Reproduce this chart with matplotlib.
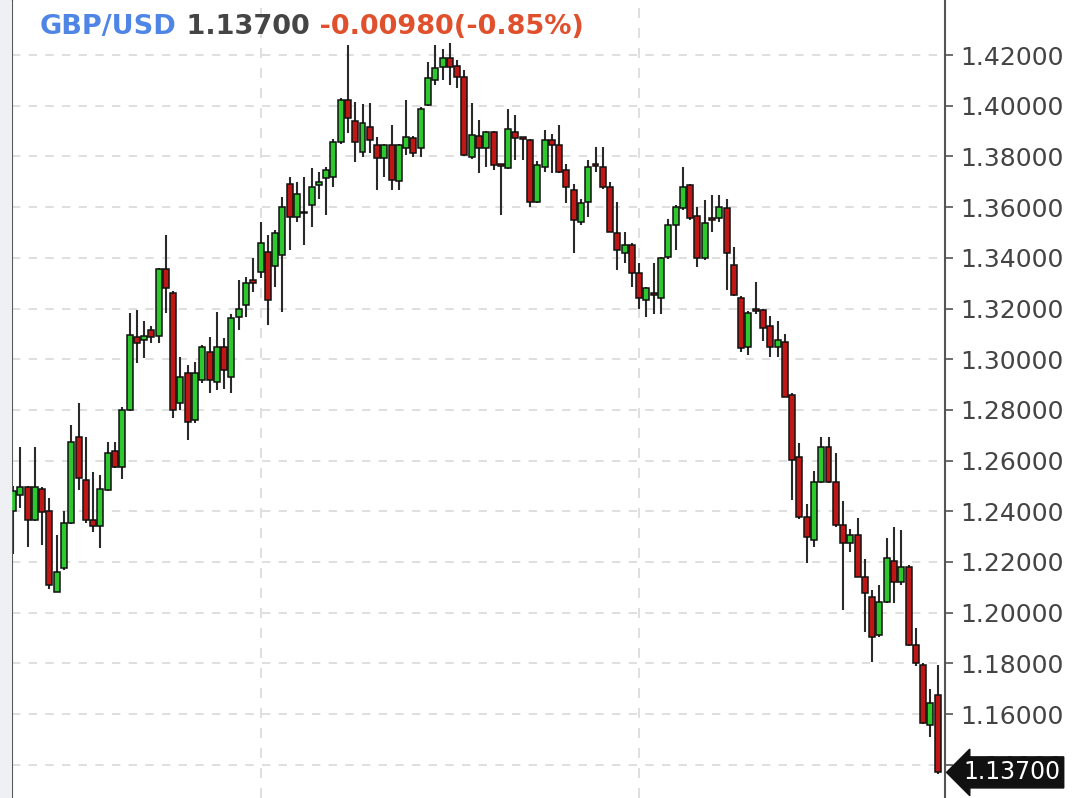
import matplotlib.pyplot as plt
from matplotlib.patches import Rectangle
import numpy as np

# GBP/USD candles (oldest first)
opens = [1.2400, 1.2465, 1.2495, 1.2366, 1.2487, 1.2401, 1.2083, 1.2175, 1.2353, 1.2695,
         1.2524, 1.2366, 1.2342, 1.2484, 1.2638, 1.2574, 1.2800, 1.3087, 1.3076, 1.3115,
         1.3092, 1.3355, 1.3260, 1.2826, 1.2944, 1.2760, 1.2918, 1.3030, 1.2912, 1.3049,
         1.2931, 1.3165, 1.3214, 1.3312, 1.3345, 1.3424, 1.3366, 1.3411, 1.3690, 1.3560,
         1.3580, 1.3608, 1.3687, 1.3713, 1.3720, 1.3858, 1.4022, 1.3941, 1.3819, 1.3917,
         1.3845, 1.3793, 1.3845, 1.3703, 1.3832, 1.3871, 1.3832, 1.4003, 1.4101, 1.4154,
         1.4187, 1.4157, 1.4115, 1.3799, 1.3880, 1.3832, 1.3897, 1.3768, 1.3753, 1.3897,
         1.3870, 1.3865, 1.3621, 1.3760, 1.3865, 1.3845, 1.3746, 1.3668, 1.3542, 1.3621,
         1.3768, 1.3760, 1.3681, 1.3497, 1.3418, 1.3450, 1.3339, 1.3234, 1.3259, 1.3240,
         1.3405, 1.3530, 1.3595, 1.3687, 1.3563, 1.3398, 1.3553, 1.3556, 1.3595, 1.3372,
         1.3240, 1.3047, 1.3196, 1.3194, 1.3131, 1.3047, 1.3069, 1.2859, 1.2615, 1.2379,
         1.2287, 1.2517, 1.2655, 1.2517, 1.2346, 1.2276, 1.2306, 1.2142, 1.2063, 1.1912,
         1.2044, 1.2202, 1.2122, 1.2182, 1.1873, 1.1794, 1.1557, 1.1675]
highs = [1.2500, 1.2655, 1.2500, 1.2655, 1.2495, 1.2452, 1.2306, 1.2403, 1.2740, 1.2826,
         1.2694, 1.2556, 1.2543, 1.2675, 1.2675, 1.2810, 1.3181, 1.3194, 1.3152, 1.3130,
         1.3360, 1.3490, 1.3270, 1.3010, 1.2977, 1.2990, 1.3055, 1.3089, 1.3187, 1.3085,
         1.3180, 1.3312, 1.3326, 1.3399, 1.3542, 1.3490, 1.3510, 1.3640, 1.3720, 1.3700,
         1.3720, 1.3754, 1.3740, 1.3760, 1.3870, 1.4030, 1.4239, 1.4016, 1.4005, 1.4010,
         1.3878, 1.3850, 1.3924, 1.3850, 1.4022, 1.3880, 1.3993, 1.4174, 1.4239, 1.4225,
         1.4246, 1.4180, 1.4140, 1.4010, 1.3944, 1.3900, 1.3900, 1.3772, 1.3987, 1.3964,
         1.3875, 1.3870, 1.3780, 1.3904, 1.3890, 1.3924, 1.3770, 1.3690, 1.3630, 1.3786,
         1.3838, 1.3838, 1.3700, 1.3621, 1.3500, 1.3460, 1.3380, 1.3285, 1.3378, 1.3405,
         1.3555, 1.3610, 1.3760, 1.3690, 1.3600, 1.3628, 1.3648, 1.3648, 1.3630, 1.3444,
         1.3250, 1.3190, 1.3306, 1.3200, 1.3170, 1.3150, 1.3100, 1.2865, 1.2670, 1.2430,
         1.2560, 1.2694, 1.2694, 1.2629, 1.2440, 1.2330, 1.2373, 1.2210, 1.2090, 1.2110,
         1.2294, 1.2339, 1.2328, 1.2190, 1.1940, 1.1800, 1.1700, 1.1794]
lows = [1.2230, 1.2413, 1.2260, 1.2360, 1.2267, 1.2095, 1.2080, 1.2170, 1.2350, 1.2484,
        1.2353, 1.2320, 1.2254, 1.2480, 1.2570, 1.2527, 1.2795, 1.2984, 1.3004, 1.3064,
        1.3064, 1.3181, 1.2767, 1.2800, 1.2681, 1.2750, 1.2905, 1.2865, 1.2878, 1.2884,
        1.2865, 1.3115, 1.3168, 1.3267, 1.3320, 1.3135, 1.3286, 1.3187, 1.3431, 1.3540,
        1.3450, 1.3523, 1.3630, 1.3569, 1.3681, 1.3850, 1.3891, 1.3779, 1.3799, 1.3812,
        1.3668, 1.3720, 1.3668, 1.3668, 1.3804, 1.3799, 1.3799, 1.4000, 1.4082, 1.4101,
        1.4082, 1.4070, 1.3800, 1.3790, 1.3733, 1.3760, 1.3746, 1.3569, 1.3750, 1.3786,
        1.3786, 1.3602, 1.3615, 1.3740, 1.3733, 1.3735, 1.3615, 1.3418, 1.3530, 1.3560,
        1.3740, 1.3670, 1.3500, 1.3352, 1.3380, 1.3286, 1.3200, 1.3168, 1.3180, 1.3180,
        1.3395, 1.3431, 1.3590, 1.3550, 1.3365, 1.3390, 1.3500, 1.3540, 1.3273, 1.3250,
        1.3030, 1.3017, 1.3180, 1.3070, 1.3010, 1.3010, 1.2850, 1.2445, 1.2370, 1.2195,
        1.2260, 1.2510, 1.2510, 1.2340, 1.2011, 1.2240, 1.2140, 1.1925, 1.1807, 1.1905,
        1.2040, 1.2040, 1.2110, 1.1870, 1.1790, 1.1560, 1.1511, 1.1365]
closes = [1.2480, 1.2497, 1.2366, 1.2495, 1.2399, 1.2109, 1.2162, 1.2355, 1.2675, 1.2530,
          1.2366, 1.2342, 1.2487, 1.2629, 1.2574, 1.2800, 1.3096, 1.3063, 1.3092, 1.3089,
          1.3355, 1.3280, 1.2800, 1.2931, 1.2754, 1.2944, 1.3049, 1.2918, 1.3049, 1.2957,
          1.3161, 1.3200, 1.3299, 1.3300, 1.3457, 1.3234, 1.3497, 1.3600, 1.3560, 1.3650,
          1.3575, 1.3681, 1.3700, 1.3746, 1.3858, 1.4022, 1.3950, 1.3858, 1.3931, 1.3865,
          1.3793, 1.3845, 1.3707, 1.3845, 1.3878, 1.3812, 1.3987, 1.4108, 1.4148, 1.4187,
          1.4154, 1.4115, 1.3806, 1.3884, 1.3832, 1.3897, 1.3766, 1.3764, 1.3907, 1.3871,
          1.3868, 1.3621, 1.3766, 1.3865, 1.3845, 1.3740, 1.3681, 1.3549, 1.3615, 1.3760,
          1.3763, 1.3681, 1.3503, 1.3431, 1.3450, 1.3339, 1.3240, 1.3280, 1.3255, 1.3398,
          1.3530, 1.3602, 1.3681, 1.3556, 1.3398, 1.3536, 1.3551, 1.3599, 1.3418, 1.3253,
          1.3043, 1.3181, 1.3192, 1.3122, 1.3047, 1.3076, 1.2852, 1.2602, 1.2379, 1.2300,
          1.2517, 1.2655, 1.2517, 1.2346, 1.2274, 1.2306, 1.2142, 1.2076, 1.1906, 1.2044,
          1.2215, 1.2122, 1.2182, 1.1873, 1.1800, 1.1564, 1.1644, 1.1370]

price_ticks = [1.14, 1.16, 1.18, 1.20, 1.22, 1.24, 1.26, 1.28, 1.30, 1.32, 1.34, 1.36, 1.38, 1.40, 1.42]
period_marks = [34, 86]
symbol = 'GBP/USD'
last_price = 1.13700
change = -0.00980
change_pct = -0.85

o = np.array(opens)
h = np.array(highs)
l = np.array(lows)
c = np.array(closes)
x = np.arange(len(o))

fig = plt.figure(figsize=(10.8, 7.98), dpi=100)
fig.patch.set_facecolor('white')
fig.patches.append(Rectangle((0, 0), 11 / 1080, 1, transform=fig.transFigure,
                             color='#eef0f3', zorder=0))
ax = fig.add_axes([12 / 1080, 0, 933 / 1080, 1])

# candles
ax.vlines(x, l, h, color='#2a2a2a', linewidth=1.5, zorder=2)
up = c >= o
colors = np.where(up, '#2dc82d', '#bf1616')
bottoms = np.minimum(o, c)
heights = np.maximum(np.abs(c - o), 0.0007)
ax.bar(x, heights, bottom=bottoms, width=0.82, color=colors,
       edgecolor='#111111', linewidth=1.1, zorder=3)

ax.set_xlim(-0.14, 128.0)
ax.set_ylim(1.1269, 1.4417)

# grid
ax.set_yticks(price_ticks)
ax.yaxis.set_major_formatter('{x:.5f}')
ax.grid(axis='y', linestyle=(0, (5, 5)), color='#d9d9d9', linewidth=1.2, zorder=0)
for m in period_marks:
    ax.axvline(m, linestyle=(0, (6, 6)), color='#d9d9d9', linewidth=1.2, zorder=0)
ax.set_xticks([])

ax.yaxis.tick_right()
ax.tick_params(axis='y', direction='out', length=6, width=1.2, color='#555555',
               labelcolor='#444444', labelsize=18, pad=5)
for side in ['top', 'bottom']:
    ax.spines[side].set_visible(False)
ax.spines['left'].set_color('#333333')
ax.spines['left'].set_linewidth(1.5)
ax.spines['right'].set_color('#555555')
ax.spines['right'].set_linewidth(1.5)

# header
t1 = fig.text(40 / 1080, 1 - 40 / 798, symbol, color='#4f86e6', fontsize=19.5,
              fontweight='bold', va='bottom')
t2 = ax.annotate(' %.5f' % last_price, xy=(1, 0), xycoords=t1, va='bottom',
                 color='#454545', fontsize=19.5, fontweight='bold')
t3 = ax.annotate(' %.5f(%.2f%%)' % (change, change_pct), xy=(1, 0), xycoords=t2,
                 va='bottom', color='#e0502d', fontsize=19.5, fontweight='bold')

# last price tag (covers the 1.14000 label, as in the source chart)
ax.annotate('%.5f' % last_price, xy=(1, last_price), xycoords=('axes fraction', 'data'),
            xytext=(13, 0), textcoords='offset points', va='center', ha='left',
            color='white', fontsize=17,
            bbox=dict(boxstyle='larrow,pad=0.15', fc='#111111', ec='#111111'),
            zorder=10, annotation_clip=False)

fig.savefig('out.png', dpi=100)
